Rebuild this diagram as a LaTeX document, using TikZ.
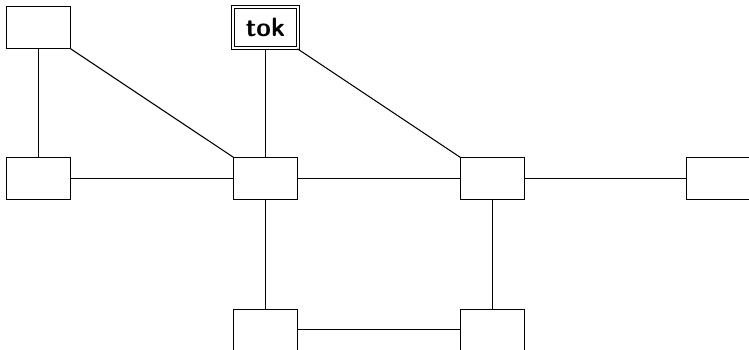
\documentclass[tikz,border=0pt]{standalone}
\usepackage{tikz}

\tikzset{
  box/.style={draw, rectangle, minimum width=0.85cm, minimum height=0.55cm, inner sep=0pt},
  tokbox/.style={box, double, double distance=0.7pt, font=\sffamily\bfseries}
}

\begin{document}
\begin{tikzpicture}
          \useasboundingbox (-0.512,0.364) rectangle (9.396,-4.266);
          % top row
          \node[box] (tl) at (0,0) {};
          \node[tokbox] (tok) at (3,0) {tok};
          % middle row
          \node[box] (ml) at (0,-2) {};
          \node[box] (mc) at (3,-2) {};
          \node[box] (mr) at (6,-2) {};
          \node[box] (fr) at (9,-2) {};
          % bottom row
          \node[box] (bl) at (3,-4) {};
          \node[box] (br) at (6,-4) {};
          % lines
          \draw (tl) -- (ml);
          \draw (tl) -- (mc);
          \draw (tok) -- (mc);
          \draw (tok) -- (mr);
          \draw (ml) -- (mc);
          \draw (mc) -- (mr);
          \draw (mr) -- (fr);
          \draw (mc) -- (bl);
          \draw (mr) -- (br);
          \draw (bl) -- (br);
        \end{tikzpicture}
\end{document}
